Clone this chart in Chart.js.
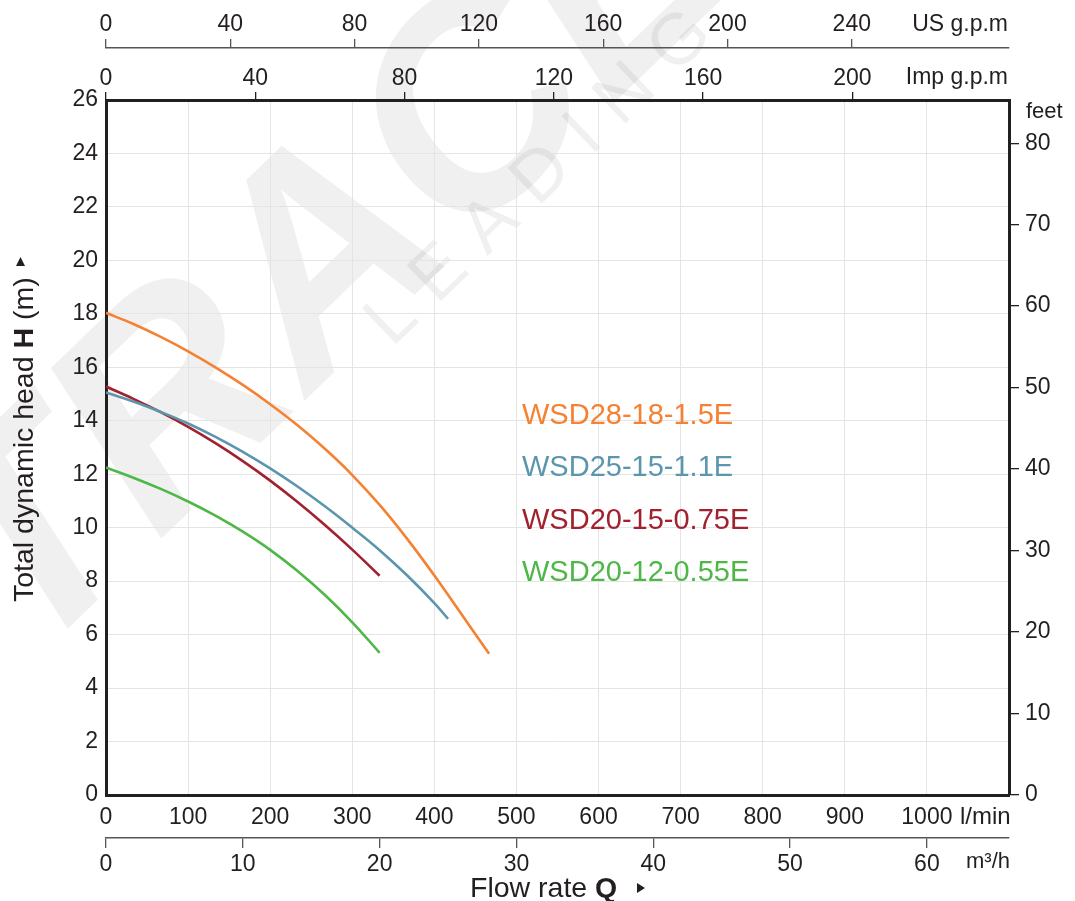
<!DOCTYPE html>
<html>
<head>
<meta charset="utf-8">
<script src="https://cdn.jsdelivr.net/npm/chart.js@4.4.1/dist/chart.umd.min.js"></script>
<style>
  html,body{margin:0;padding:0;background:#fff;}
  #wrap{width:1075px;height:901px;position:relative;}
</style>
</head>
<body>
<div id="wrap"><canvas id="c"></canvas></div>
<script>
// ---- data (flow in m3/h, head in m) ----
const seriesNames = ['WSD28-18-1.5E','WSD25-15-1.1E','WSD20-15-0.75E','WSD20-12-0.55E'];
const seriesColors = ['#f58233','#5b96ad','#a1222e','#4eb748'];

const flowOrange = [0,2,4,6,8,10,12,14,16,18,20,22,24,26,28];
const headOrange = [18.04,17.62,17.14,16.60,16.00,15.34,14.62,13.83,12.95,11.97,10.85,9.59,8.21,6.75,5.28];

const flowBlue = [0,2,4,6,8,10,12,14,16,18,20,22,24,25];
const headBlue = [15.06,14.72,14.33,13.90,13.40,12.84,12.22,11.54,10.80,10.0,9.16,8.22,7.18,6.59];

const flowRed = [0,2,4,6,8,10,12,14,16,18,20];
const headRed = [15.28,14.82,14.32,13.77,13.16,12.49,11.76,10.96,10.10,9.18,8.2];

const flowGreen = [0,2,4,6,8,10,12,14,16,18,20];
const headGreen = [12.25,11.87,11.45,10.98,10.45,9.85,9.17,8.38,7.48,6.46,5.32];

// axis ranges / tick labels
const lminMax = 1100, lminStep = 100, lminLastLabel = 1000;
const m3hMax = lminMax / 1000 * 60, m3hStep = 10;
const usGpmMax = lminMax / 3.78541, usGpmStep = 40, usGpmLastLabel = 240;
const impGpmMax = lminMax / 4.54609, impGpmStep = 40, impGpmLastLabel = 200;
const headMax = 26, headStep = 2;
const feetMax = headMax * 3.28084, feetStep = 10, feetLastLabel = 80;

const FONT = '"Liberation Sans", Arial, Helvetica, sans-serif';
const TXT = '#231f20';

function pts(f, h){ return f.map((q,i)=>({x:q, y:h[i]})); }
const flows = [flowOrange, flowBlue, flowRed, flowGreen];
const heads = [headOrange, headBlue, headRed, headGreen];

const datasets = seriesNames.map((n,i)=>({
  label:n, data: pts(flows[i], heads[i]),
  borderColor: seriesColors[i], borderWidth: 2.6,
  pointRadius: 0, fill:false, tension:0.4,
  xAxisID:'q', yAxisID:'h'
}));

function richText(ctx, parts, x, y){
  for (const p of parts){
    ctx.font = p.font;
    ctx.fillText(p.text, x, y);
    x += ctx.measureText(p.text).width;
  }
  return x;
}

const overlay = {
  id:'overlay',
  beforeDraw(chart){
    const ctx = chart.ctx;
    ctx.save();
    ctx.fillStyle = '#ffffff';
    ctx.fillRect(0,0,chart.width,chart.height);
    ctx.fillStyle = 'rgba(0,0,0,0.06)';
    ctx.translate(30, 665);
    ctx.rotate(-Math.PI/4.1);
    ctx.font = 'italic bold 290px ' + FONT;
    ctx.fillText('TRACE', 0, 0);
    ctx.restore();
    ctx.save();
    ctx.fillStyle = 'rgba(0,0,0,0.06)';
    ctx.translate(392, 348);
    ctx.rotate(-Math.PI/4.1);
    ctx.font = '72px ' + FONT;
    try { ctx.letterSpacing = '22px'; } catch(e){}
    ctx.fillText('LEADING', 0, 0);
    ctx.restore();
  },
  afterDraw(chart){
    const ctx = chart.ctx;
    ctx.save();
    // series labels
    ctx.font = '29px ' + FONT;
    ctx.textAlign = 'left'; ctx.textBaseline = 'alphabetic';
    const ly = [424, 476, 529, 581];
    seriesNames.forEach((n,i)=>{ ctx.fillStyle = seriesColors[i]; ctx.fillText(n, 522, ly[i]); });
    // unit labels
    ctx.fillStyle = TXT;
    ctx.font = '23px ' + FONT;
    ctx.textAlign = 'right'; ctx.textBaseline = 'middle';
    ctx.fillText('US g.p.m', 1008, 25);
    ctx.fillText('Imp g.p.m', 1008, 77.5);
    ctx.textAlign = 'left';
    ctx.font = '24px ' + FONT;
    ctx.fillText('l/min', 960, 817);
    ctx.textBaseline = 'alphabetic';
    ctx.font = '22px ' + FONT;
    ctx.fillText('m³/h', 966, 868);
    ctx.fillText('feet', 1026, 118);
    // x title
    richText(ctx, [
      {text:'Flow rate ', font:'28.5px ' + FONT},
      {text:'Q', font:'bold 28.5px ' + FONT}
    ], 470, 897);
    ctx.beginPath();
    ctx.moveTo(637,883); ctx.lineTo(637,893); ctx.lineTo(645,888); ctx.closePath(); ctx.fill();
    // y title
    ctx.save();
    ctx.translate(33, 602);
    ctx.rotate(-Math.PI/2);
    richText(ctx, [
      {text:'Total dynamic head ', font:'28.5px ' + FONT},
      {text:'H', font:'bold 28.5px ' + FONT},
      {text:' (m)', font:'28.5px ' + FONT}
    ], 0, 0);
    ctx.beginPath();
    ctx.moveTo(336,-17); ctx.lineTo(336,-8); ctx.lineTo(345,-12.5); ctx.closePath(); ctx.fill();
    ctx.restore();
    ctx.restore();
  }
};

const tickFont = {size:23, family:FONT};

new Chart(document.getElementById('c'), {
  type:'line',
  data:{datasets},
  options:{
    responsive:true, maintainAspectRatio:false, animation:false,
    layout:{padding:0},
    plugins:{legend:{display:false}, tooltip:{enabled:false}},
    scales:{
      lmin:{
        axis:'x', type:'linear', position:'bottom', weight:0, min:0, max:lminMax,
        ticks:{stepSize:lminStep, font:tickFont, color:TXT, padding:8.5, maxRotation:0, autoSkip:false,
               callback:v => v <= lminLastLabel ? String(v) : ''},
        grid:{color:'#e4e4e4', lineWidth:1, drawTicks:false},
        border:{color:'#231f20', width:3},
        afterFit:s=>{ s.height = 43; }
      },
      q:{
        axis:'x', type:'linear', position:'bottom', weight:1, min:0, max:m3hMax,
        ticks:{stepSize:m3hStep, font:tickFont, color:TXT, padding:2.5, maxRotation:0, autoSkip:false},
        grid:{drawOnChartArea:false, tickLength:10, color:'#555', lineWidth:1.3},
        border:{color:'#555', width:1.5},
        afterBuildTicks:s=>{ s.ticks = s.ticks.filter(t => Math.abs(t.value % m3hStep) < 1e-6); },
        afterFit:s=>{ s.height = 63; }
      },
      imp:{
        axis:'x', type:'linear', position:'top', weight:0, min:0, max:impGpmMax,
        ticks:{stepSize:impGpmStep, font:tickFont, color:TXT, padding:0, maxRotation:0, autoSkip:false},
        grid:{drawOnChartArea:false, tickLength:8, color:'#231f20', lineWidth:1.3},
        border:{color:'#231f20', width:3},
        afterBuildTicks:s=>{ s.ticks = s.ticks.filter(t => t.value <= impGpmLastLabel); },
        afterFit:s=>{ s.height = 52; }
      },
      us:{
        axis:'x', type:'linear', position:'top', weight:1, min:0, max:usGpmMax,
        ticks:{stepSize:usGpmStep, font:tickFont, color:TXT, padding:0.5, maxRotation:0, autoSkip:false},
        grid:{drawOnChartArea:false, tickLength:9, color:'#555', lineWidth:1.3},
        border:{color:'#555', width:1.5},
        afterBuildTicks:s=>{ s.ticks = s.ticks.filter(t => t.value <= usGpmLastLabel); },
        afterFit:s=>{ s.height = 48; }
      },
      h:{
        axis:'y', type:'linear', position:'left', min:0, max:headMax,
        ticks:{stepSize:headStep, font:tickFont, color:TXT, padding:8, autoSkip:false},
        grid:{color:'#e4e4e4', lineWidth:1, drawTicks:false},
        border:{color:'#231f20', width:3},
        afterFit:s=>{ s.width = 106; }
      },
      ft:{
        axis:'y', type:'linear', position:'right', min:0, max:feetMax,
        ticks:{stepSize:feetStep, font:tickFont, color:TXT, padding:6, autoSkip:false},
        grid:{drawOnChartArea:false, tickLength:10, color:'#231f20', lineWidth:1.3},
        border:{color:'#231f20', width:3},
        afterBuildTicks:s=>{ s.ticks = s.ticks.filter(t => t.value <= feetLastLabel); },
        afterFit:s=>{ s.width = 66; }
      }
    }
  },
  plugins:[overlay]
});
</script>
</body>
</html>
